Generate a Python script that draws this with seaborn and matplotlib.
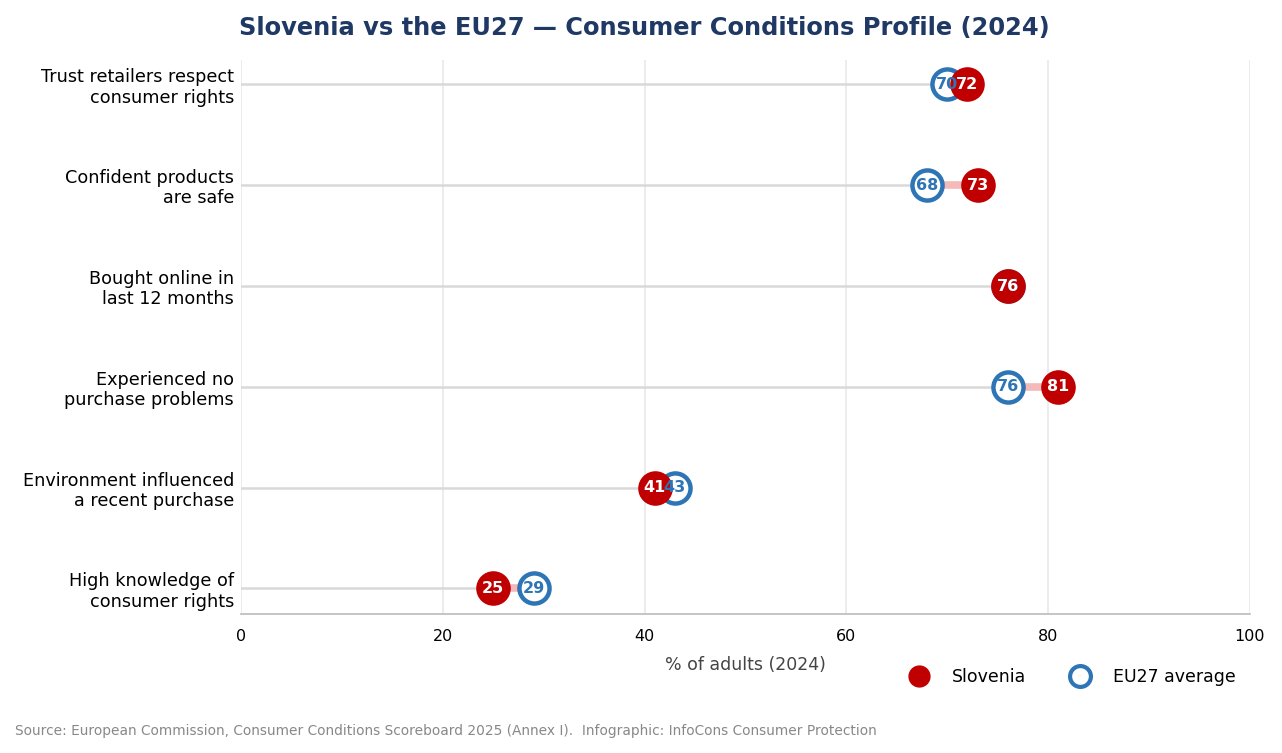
import matplotlib
matplotlib.use('Agg')
import matplotlib.pyplot as plt
from matplotlib.lines import Line2D
import pandas as pd
import seaborn as sns

# --- DATA ---
categories = [
    "Trust retailers respect\nconsumer rights",
    "Confident products\nare safe",
    "Bought online in\nlast 12 months",
    "Experienced no\npurchase problems",
    "Environment influenced\na recent purchase",
    "High knowledge of\nconsumer rights",
]
slovenia = [72, 73, 76, 81, 41, 25]
eu27 = [70, 68, 76, 76, 43, 29]

RED = "#c00000"
BLUE = "#2e75b6"

df = pd.DataFrame({"cat": categories, "si": slovenia, "eu": eu27})
df["pos"] = range(len(df))

sns.set_theme(style="white")
plt.rcParams['font.family'] = ['DejaVu Sans']

fig, ax = plt.subplots(figsize=(12.82, 7.53), dpi=100)
fig.subplots_adjust(left=0.188, right=0.975, top=0.920, bottom=0.185)

# grey baseline from 0 to the smaller value, pink connector between the two
for _, r in df.iterrows():
    lo, hi = min(r.si, r.eu), max(r.si, r.eu)
    ax.plot([0, lo], [r.pos, r.pos], color="#d9d9d9", lw=1.8, zorder=1)
    ax.plot([lo, hi], [r.pos, r.pos], color="#f4baba", lw=5.5, zorder=2,
            solid_capstyle="butt")

sns.scatterplot(data=df, x="eu", y="pos", ax=ax, s=470, marker="o",
                facecolor="white", edgecolor=BLUE, linewidth=3.2, zorder=3,
                legend=False)
sns.scatterplot(data=df, x="si", y="pos", ax=ax, s=620, marker="o",
                color=RED, edgecolor=RED, linewidth=0, zorder=4, legend=False)

for _, r in df.iterrows():
    ax.text(r.eu, r.pos, f"{r.eu}", ha="center", va="center", color=BLUE,
            fontsize=11.5, fontweight="bold", zorder=5)
for _, r in df.iterrows():
    ax.text(r.si, r.pos, f"{r.si}", ha="center", va="center", color="white",
            fontsize=11.5, fontweight="bold", zorder=6)

ax.set_xlim(0, 100)
ax.set_ylim(5.25, -0.24)
ax.set_xticks(range(0, 101, 20))
ax.set_yticks(df["pos"])
ax.set_yticklabels(categories, fontsize=12.7, ha="right", linespacing=1.15,
                   color="black")
ax.tick_params(axis="x", labelsize=11.5, length=0, pad=11, labelcolor="black")
ax.tick_params(axis="y", length=0, pad=5)
ax.set_xlabel("% of adults (2024)", fontsize=12.5, color="#444444", labelpad=8.5)
ax.set_ylabel("")

ax.grid(axis="x", color="#ebebeb", lw=1.3)
ax.set_axisbelow(True)
for s in ["top", "right", "left"]:
    ax.spines[s].set_visible(False)
ax.spines["bottom"].set_color("#bbbbbb")
ax.spines["bottom"].set_linewidth(1.2)

fig.suptitle("Slovenia vs the EU27 \u2014 Consumer Conditions Profile (2024)",
             fontsize=17.4, fontweight="bold", color="#1f3864", x=0.503, y=0.979)

handles = [
    Line2D([], [], marker="o", ls="", markersize=15, markerfacecolor=RED,
           markeredgecolor=RED, label="Slovenia"),
    Line2D([], [], marker="o", ls="", markersize=15, markerfacecolor="white",
           markeredgecolor=BLUE, markeredgewidth=3, label="EU27 average"),
]
fig.legend(handles=handles, loc="center right", ncol=2, frameon=False,
           fontsize=12.5, bbox_to_anchor=(0.976, 1 - 677 / 753),
           columnspacing=2.1, handletextpad=0.9, labelcolor="black")

fig.text(15 / 1282, 1 - 731 / 753,
         "Source: European Commission, Consumer Conditions Scoreboard 2025 (Annex I).  "
         "Infographic: InfoCons Consumer Protection",
         fontsize=9.9, color="#888888", ha="left", va="center")

fig.savefig("out.png", dpi=100)
plt.close(fig)
